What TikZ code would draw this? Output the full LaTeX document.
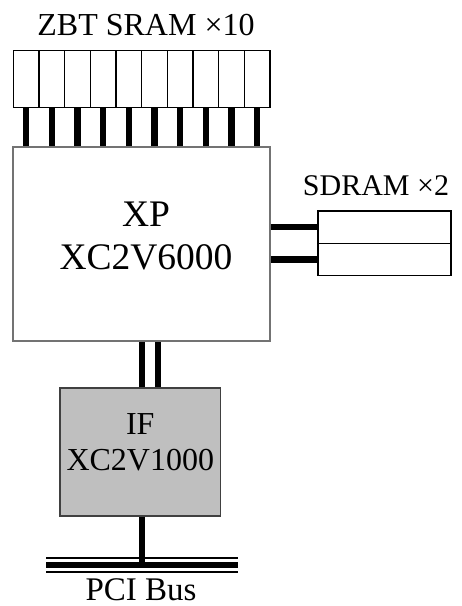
\documentclass[tikz,border=0pt]{standalone}
\usepackage{fontspec}
\setmainfont{Liberation Serif}
\usetikzlibrary{calc}

\tikzset{
  chip/.style={draw=black!55, line width=1.5pt, rectangle, inner sep=0pt},
  mem/.style={draw=black, line width=1.2pt, rectangle, inner sep=0pt},
  bus/.style={line width=6.5pt, black},
  pin/.style={line width=0.8pt, black!45},
}

\begin{document}
\begin{tikzpicture}[x=1pt, y=-1pt]
\useasboundingbox (0,0) rectangle (462,606);
\node[chip, minimum width=257pt, minimum height=194pt] (xp) at (141.5,244) {};
\node[align=center, font=\fontsize{37.5}{43}\selectfont] (xptext) at (146,236) {XP\\XC2V6000};
\foreach \i in {0,...,9}
  \node[mem, minimum width=25.7pt, minimum height=56.5pt] (s\i) at (26.2+25.67*\i,79) {};
\foreach \i in {0,...,9} {
  \draw[pin] ($(s\i.south)+(4.5,0)$) -- ($(s\i.south)+(4.5,0)$ |- xp.north);
  \draw[bus] (s\i.south) -- (s\i.south |- xp.north);
}
\node[font=\fontsize{32}{34}\selectfont, anchor=base] (zbt) at (146,35) {ZBT SRAM ×10};
\node[mem, minimum width=133pt, minimum height=32.3pt] (sd1) at (384.5,227.2) {};
\node[mem, minimum width=133pt, minimum height=32.3pt] (sd2) at (384.5,259.5) {};
\node[font=\fontsize{30}{34}\selectfont, anchor=base] (sdlabel) at (376,195) {SDRAM ×2};
\draw[bus] (xp.east |- sd1.west) -- (sd1.west);
\draw[bus] (xp.east |- sd2.west) -- (sd2.west);
\node[chip, draw=black!75, fill=gray!50, minimum width=160.7pt, minimum height=128pt] (ifc) at (140.3,452) {};
\node[align=center, font=\fontsize{32}{36}\selectfont] (iftext) at (140.3,442) {IF\\XC2V1000};
\draw[bus] (142,0 |- xp.south) -- (142,0 |- ifc.north);
\draw[bus] (158,0 |- xp.south) -- (158,0 |- ifc.north);
\coordinate (pcil) at (46,565);
\coordinate (pcir) at (238,565);
\coordinate (tap) at (142,565);
\draw[bus] (142,0 |- ifc.south) -- (tap);
\draw[line width=2pt] ($(pcil)+(0,-7)$) -- ($(pcir)+(0,-7)$);
\draw[bus] (pcil) -- (pcir);
\draw[line width=2pt] ($(pcil)+(0,7)$) -- ($(pcir)+(0,7)$);
\node[font=\fontsize{33}{34}\selectfont, anchor=base] (pcilabel) at (141,600) {PCI Bus};
\end{tikzpicture}
\end{document}
